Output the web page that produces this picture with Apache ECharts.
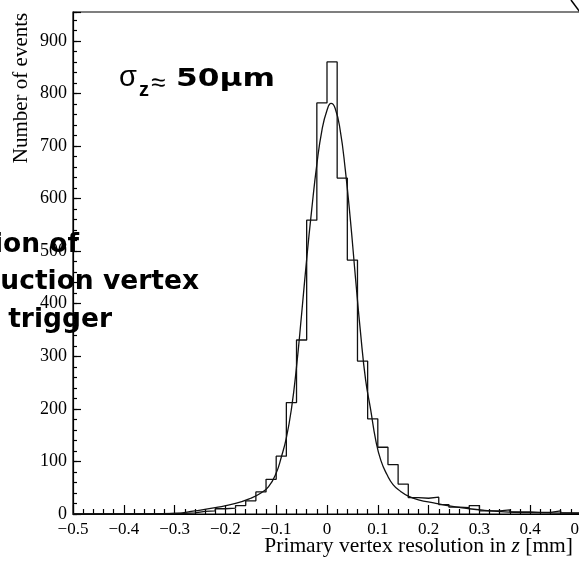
<!DOCTYPE html>
<html>
<head>
<meta charset="utf-8">
<script src="https://cdn.jsdelivr.net/npm/echarts@6/dist/echarts.min.js"></script>
<style>
html,body{margin:0;padding:0;background:#fff;}
#c{width:579px;height:563px;}
</style>
</head>
<body>
<div id="c"></div>
<script>
// Histogram: left edges of 0.02 mm bins, and counts
const binLeft = [-0.50,-0.48,-0.46,-0.44,-0.42,-0.40,-0.38,-0.36,-0.34,-0.32,
                 -0.30,-0.28,-0.26,-0.24,-0.22,-0.20,-0.18,-0.16,-0.14,-0.12,
                 -0.10,-0.08,-0.06,-0.04,-0.02, 0.00, 0.02, 0.04, 0.06, 0.08,
                  0.10, 0.12, 0.14, 0.16, 0.18, 0.20, 0.22, 0.24, 0.26, 0.28,
                  0.30, 0.32, 0.34, 0.36, 0.38, 0.40, 0.42, 0.44, 0.46, 0.48];
const binRightEnd = 0.50;
const counts = [0,0,0,0,0,0,0,0,0,1,
                1,2,5,6,10,11,16,25,42,66,
                110,212,331,559,782,860,639,483,291,181,
                127,94,57,31,30,32,18,13,12,16,
                6,6,8,4,4,3,3,6,2,2];

// Fitted curve, points
const fitX = [-0.50,-0.40,-0.30,-0.26,-0.22,-0.18,-0.15,-0.13,-0.115,-0.10,
              -0.09,-0.08,-0.07,-0.06,-0.05,-0.04,-0.03,-0.02,-0.01,0.00,
              0.008,0.016,0.026,0.036,0.046,0.056,0.066,0.076,0.086,0.096,
              0.106,0.118,0.13,0.145,0.16,0.18,0.21,0.25,0.28,0.31,
              0.35,0.40,0.50];
const fitY = [0,0,1,6,12,20,30,40,52,78,
              108,145,200,280,380,485,580,665,730,768,
              781,772,730,655,560,450,345,255,198,140,
              102,75,56,43,34,27,21,14,10,7,
              4,2.5,1];

const xTickLabels = ['\u22120.5','\u22120.4','\u22120.3','\u22120.2','\u22120.1','0','0.1','0.2','0.3','0.4','0.5'];
const yTickLabels = ['0','100','200','300','400','500','600','700','800','900'];

const histData = binLeft.map((x, i) => [x, counts[i]]);
histData.push([binRightEnd, counts[counts.length - 1]]);
const fitData = fitX.map((x, i) => [x, fitY[i]]);

const chart = echarts.init(document.getElementById('c'), null, {renderer: 'canvas'});
const black = '#000';
const option = {
  animation: false,
  backgroundColor: '#fff',
  grid: {left: 73, top: 12, right: -2, bottom: 49, show: true, borderColor: black, borderWidth: 1.2,
         backgroundColor: 'transparent', containLabel: false, outerBoundsMode: 'none'},
  xAxis: {
    type: 'value', min: -0.5, max: 0.5, interval: 0.1,
    axisLine: {onZero: false, lineStyle: {color: black, width: 1.2}},
    axisTick: {inside: true, length: 9, lineStyle: {color: black, width: 1.2}},
    minorTick: {show: true, splitNumber: 5, length: 5, lineStyle: {color: black, width: 1.2}},
    splitLine: {show: false}, minorSplitLine: {show: false},
    axisLabel: {color: black, fontFamily: 'Liberation Serif', fontSize: 17, margin: 7,
      formatter: v => xTickLabels[Math.round((v + 0.5) / 0.1)] || ''}
  },
  yAxis: [{
    type: 'value', min: 0, max: 955, interval: 100, position: 'left',
    axisLine: {show: true, onZero: false, lineStyle: {color: black, width: 1.2}},
    axisTick: {inside: true, length: 8, lineStyle: {color: black, width: 1.2}},
    splitLine: {show: false},
    axisLabel: {color: black, fontFamily: 'Liberation Serif', fontSize: 18, margin: 6,
      formatter: v => (Math.abs(v / 100 - Math.round(v / 100)) < 1e-6 ? (yTickLabels[Math.round(v / 100)] || '') : '')}
  }, {
    type: 'value', min: 0, max: 955, interval: 20, position: 'left',
    axisLine: {show: false, onZero: false},
    axisTick: {inside: true, length: 4, lineStyle: {color: black, width: 1.2}},
    splitLine: {show: false},
    axisLabel: {show: false}
  }],
  series: [{
    type: 'line', data: histData, step: 'end', symbol: 'none', yAxisIndex: 0,
    lineStyle: {color: '#111', width: 1.3}, z: 3
  }, {
    type: 'line', data: fitData, smooth: 0.5, symbol: 'none', yAxisIndex: 0,
    lineStyle: {color: '#111', width: 1.3}, z: 4
  }],
  graphic: [
    {type: 'text', x: 21.5, y: 88, rotation: Math.PI / 2, z: 10,
     style: {text: 'Number of events', font: '21px "Liberation Serif"', fill: black,
             align: 'center', verticalAlign: 'middle', textAlign: 'center', textVerticalAlign: 'middle'}},
    {type: 'text', x: 573, y: 546, z: 10,
     style: {text: 'Primary vertex resolution in {i|z} [mm]', font: '21.5px "Liberation Serif"', fill: black,
             align: 'right', verticalAlign: 'middle', textAlign: 'right', textVerticalAlign: 'middle',
             rich: {i: {font: 'italic 21.5px "Liberation Serif"', fill: black}}}},
    {type: 'text', x: 119, y: 78, z: 10,
     style: {text: '\u03c3', font: '29px "Liberation Sans"', fill: black,
             align: 'left', verticalAlign: 'middle', textAlign: 'left', textVerticalAlign: 'middle'}},
    {type: 'text', x: 139, y: 90, z: 10,
     style: {text: 'z', font: 'bold 20px "Liberation Sans"', fill: black,
             align: 'left', verticalAlign: 'middle', textAlign: 'left', textVerticalAlign: 'middle'}},
    {type: 'text', x: 151, y: 84, z: 10,
     style: {text: '\u2248', font: '26px "Liberation Sans"', fill: black,
             align: 'left', verticalAlign: 'middle', textAlign: 'left', textVerticalAlign: 'middle'}},
    {type: 'text', x: 176, y: 80, scaleX: 1.3, z: 10,
     style: {text: '50\u03bcm', font: 'bold 24px "DejaVu Sans"', fill: black,
             align: 'left', verticalAlign: 'middle', textAlign: 'left', textVerticalAlign: 'middle'}},
    {type: 'text', x: 79, y: 245.5, z: 10,
     style: {text: 'ion of', font: 'bold 26.5px "DejaVu Sans"', fill: black,
             align: 'right', verticalAlign: 'middle', textAlign: 'right', textVerticalAlign: 'middle'}},
    {type: 'text', x: 199, y: 282.5, z: 10,
     style: {text: 'uction vertex', font: 'bold 26.5px "DejaVu Sans"', fill: black,
             align: 'right', verticalAlign: 'middle', textAlign: 'right', textVerticalAlign: 'middle'}},
    {type: 'text', x: 112, y: 320, z: 10,
     style: {text: 'trigger', font: 'bold 26.5px "DejaVu Sans"', fill: black,
             align: 'right', verticalAlign: 'middle', textAlign: 'right', textVerticalAlign: 'middle'}},
    {type: 'line', z: 10, shape: {x1: 571, y1: 0, x2: 580, y2: 12},
     style: {stroke: black, lineWidth: 1.5}}
  ]
};
chart.setOption(option);
</script>
</body>
</html>
